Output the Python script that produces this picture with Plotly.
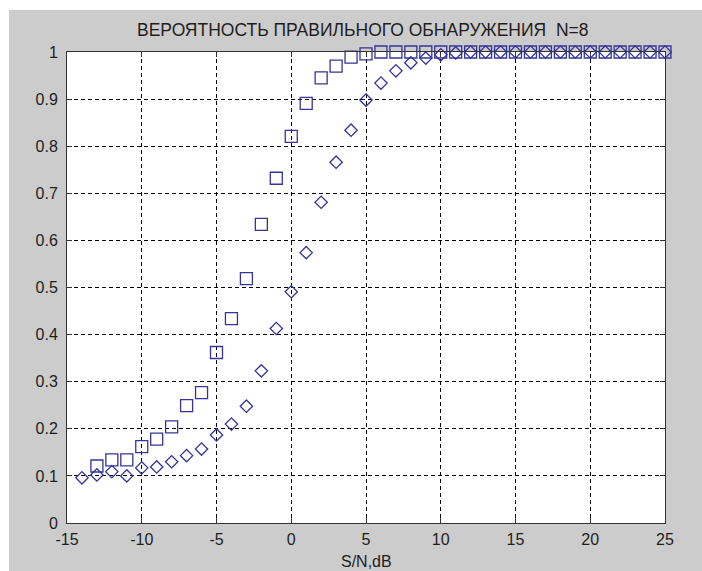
import plotly.graph_objects as go

# S/N in dB and detection probability for the two detectors
snr_sq = list(range(-13, 26))
p_sq = [0.121, 0.134, 0.134, 0.162, 0.178, 0.204, 0.249, 0.277, 0.362, 0.434,
        0.519, 0.634, 0.732, 0.821, 0.891, 0.945, 0.970, 0.989, 0.996,
        1.0, 1.0, 1.0, 1.0, 1.0, 1.0, 1.0, 1.0, 1.0, 1.0, 1.0, 1.0, 1.0,
        1.0, 1.0, 1.0, 1.0, 1.0, 1.0, 1.0]

snr_dm = list(range(-14, 26))
p_dm = [0.096, 0.102, 0.109, 0.100, 0.117, 0.119, 0.130, 0.143, 0.157, 0.187,
        0.210, 0.248, 0.323, 0.413, 0.491, 0.574, 0.681, 0.766, 0.834, 0.898,
        0.934, 0.960, 0.977, 0.987, 0.994, 0.998, 1.0, 1.0, 1.0, 1.0,
        1.0, 1.0, 1.0, 1.0, 1.0, 1.0, 1.0, 1.0, 1.0, 1.0]

x_ticks = [-15, -10, -5, 0, 5, 10, 15, 20, 25]
x_labels = ["-15", "-10", "-5", "0", "5", "10", "15", "20", "25"]
y_ticks = [0, 0.1, 0.2, 0.3, 0.4, 0.5, 0.6, 0.7, 0.8, 0.9, 1]
y_labels = ["0", "0.1", "0.2", "0.3", "0.4", "0.5", "0.6", "0.7", "0.8", "0.9", "1"]

title_text = "ВЕРОЯТНОСТЬ ПРАВИЛЬНОГО ОБНАРУЖЕНИЯ  N=8"
xlabel_text = "S/N,dB"

FONT = "Liberation Sans, Arial, sans-serif"
TXT = "#1e1e1e"
MARK = "#34349a"
W, H = 702, 571
L, R, T, B = 67, 37, 52, 48

fig = go.Figure()
fig.add_trace(go.Scatter(
    x=snr_sq, y=p_sq, mode="markers",
    marker=dict(symbol="square-open", size=12, color=MARK, line=dict(width=1.3, color=MARK)),
    showlegend=False, cliponaxis=False,
))
fig.add_trace(go.Scatter(
    x=snr_dm, y=p_dm, mode="markers",
    marker=dict(symbol="diamond-open", size=9.5, color=MARK, line=dict(width=1.3, color=MARK)),
    showlegend=False, cliponaxis=False,
))

pw = W - L - R
ph = H - T - B

axis_common = dict(
    showline=True, linecolor="#333333", linewidth=1, mirror="ticks",
    ticks="inside", ticklen=5, tickcolor="#333333",
    showgrid=True, gridcolor="#000000", gridwidth=1, griddash="4px,3px",
    zeroline=False, tickfont=dict(family=FONT, size=16, color=TXT),
)

fig.update_layout(
    width=W, height=H,
    margin=dict(l=L, r=R, t=T, b=B, pad=0),
    paper_bgcolor="#cccccc", plot_bgcolor="#ffffff",
    xaxis=dict(range=[-15, 25], tickvals=x_ticks, ticktext=x_labels, ticklabelstandoff=2, **axis_common),
    yaxis=dict(range=[0, 1], tickvals=y_ticks, ticktext=y_labels, ticklabelstandoff=5, **axis_common),
    shapes=[
        # white margin strips along the top and left of the figure
        dict(type="rect", xref="paper", yref="paper", layer="below",
             x0=-L / pw, x1=(W - L) / pw, y0=1 + (T - 10) / ph, y1=1 + T / ph,
             fillcolor="#ffffff", line=dict(width=0)),
        dict(type="rect", xref="paper", yref="paper", layer="below",
             x0=-L / pw, x1=-(L - 9) / pw, y0=-B / ph, y1=1 + T / ph,
             fillcolor="#ffffff", line=dict(width=0)),
    ],
    annotations=[
        dict(text=title_text, xref="paper", yref="paper", x=(363 - L) / pw, y=1 + (T - 30) / ph,
             showarrow=False, xanchor="center", yanchor="middle",
             font=dict(family=FONT, size=17.5, color=TXT)),
        dict(text=xlabel_text, xref="paper", yref="paper", x=0.5, y=-(561 - (H - B)) / ph,
             showarrow=False, xanchor="center", yanchor="middle",
             font=dict(family=FONT, size=16, color=TXT)),
    ],
)

fig.write_html("out.html")
